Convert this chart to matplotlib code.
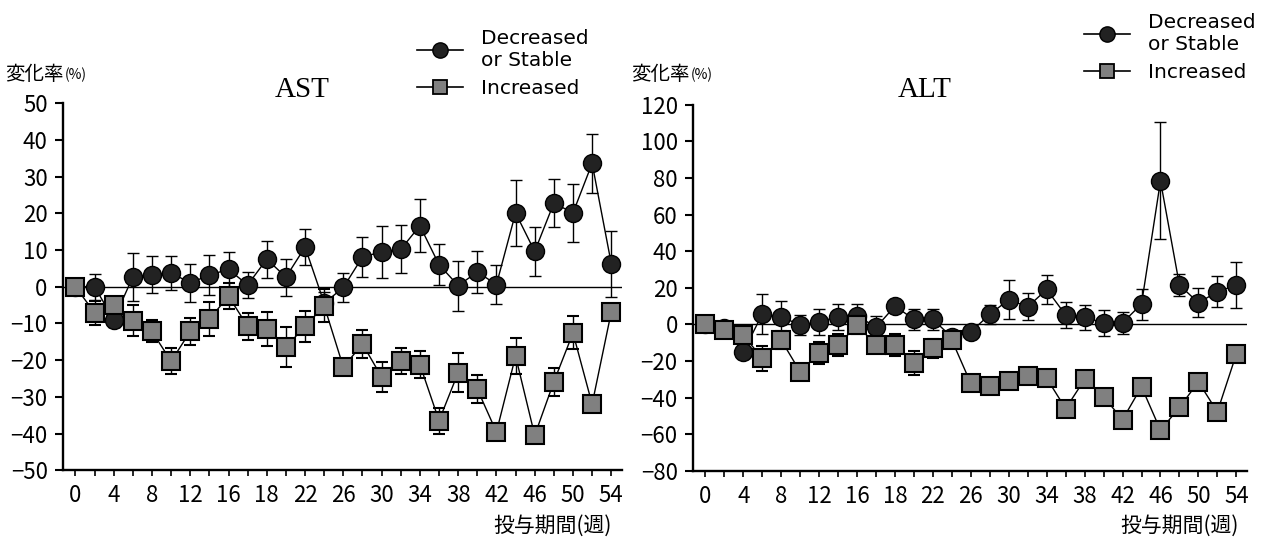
"""
    AST / ALT change rate by treatment week, two groups
"""

import matplotlib.pyplot as plt
import numpy as np
from matplotlib.lines import Line2D

plt.rcParams['font.family'] = ['Noto Sans CJK JP', 'DejaVu Sans']

# x axis is categorical (29 visits), label every other one
week_labels = ['0', '4', '8', '12', '16', '18', '22', '26', '30', '34', '38',
               '42', '46', '50', '54']

# AST, Decreased or Stable (circles)
ast_dec = [0, 0, -9, 2.7, 3.3, 3.8, 1.0, 3.2, 4.7, 0.5, 7.5, 2.6, 10.8, -4.5,
           -0.2, 8.1, 9.5, 10.2, 16.6, 6.0, 0.3, 4.0, 0.6, 20.1, 9.6, 22.8,
           20.1, 33.6, 6.3]
ast_dec_sd = [0, 3.5, 2, 6.5, 5, 4.6, 5.2, 5.5, 4.8, 3.5, 5, 5, 5, 3, 4, 5.5,
              7, 6.6, 7.2, 5.6, 6.8, 5.6, 5.3, 9, 6.6, 6.5, 7.8, 8, 9]
# AST, Increased (squares)
ast_inc = [0, -7.1, -5.1, -9.3, -12.2, -20.3, -12.2, -8.8, -2.6, -10.8, -11.5,
           -16.4, -10.8, -5.2, -21.9, -15.6, -24.6, -20.3, -21.2, -36.5, -23.4,
           -27.9, -39.6, -18.9, -40.5, -25.9, -12.6, -32.0, -6.9]
ast_inc_sd = [0, 3.3, 2, 4.2, 3, 3.5, 3.8, 4.5, 3.5, 3.7, 4.7, 5.4, 4.2, 4.5,
              1.5, 3.7, 4.2, 3.5, 3.7, 3.5, 5.3, 3.8, 1, 4.8, 1, 3.8, 4.5, 0.5,
              0.5]

# ALT, Decreased or Stable
alt_dec = [0, -2, -15, 5.6, 4.2, -0.4, 1.4, 4.2, 4.8, -1.6, 10.0, 2.7, 2.7, -7,
           -4.1, 5.5, 13.5, 9.6, 19.1, 5.1, 3.8, 0.9, 0.9, 11.1, 78.4, 21.5,
           11.8, 17.8, 21.5]
alt_dec_sd = [0, 0, 1, 11, 8.5, 5.5, 7, 7, 6.5, 6, 3, 5.7, 5.7, 1, 2, 5.3, 10.5,
              7.4, 8, 7, 7, 7, 6, 8.5, 32, 6, 8, 8.5, 12.5]
# ALT, Increased
alt_inc = [0, -3.1, -5.8, -18.6, -8.6, -25.9, -15.5, -11.3, -0.4, -11.3, -11.3,
           -21.3, -13.1, -8.6, -32.3, -33.8, -30.8, -28.3, -29.5, -46.0, -30.1,
           -39.6, -52.0, -34.1, -57.8, -45.4, -31.4, -47.8, -16.2]
alt_inc_sd = [0, 0, 0, 7, 5, 1, 6, 6, 5, 2, 6, 6.5, 5, 4, 1, 1, 1, 1, 1, 1, 1,
              1, 1, 2, 1, 1, 1, 1, 1]

circle_fc = '#222222'
square_fc = '#808080'


def draw_panel(fig, rect, dec, dec_sd, inc, inc_sd, ylim, ystep, title, title_x):
    ax = fig.add_axes(rect)
    x = np.arange(len(dec))

    ax.axhline(0, color='black', lw=1, zorder=1)
    ax.errorbar(x, dec, yerr=dec_sd, color='black', lw=1, elinewidth=1,
                capsize=4, capthick=1.3, marker='o', ms=13, mfc=circle_fc,
                mec='black', mew=1, zorder=2)
    ax.errorbar(x, inc, yerr=inc_sd, color='black', lw=1, elinewidth=1,
                capsize=4, capthick=1.3, marker='s', ms=13, mfc=square_fc,
                mec='black', mew=1.5, zorder=3)

    ax.set_xlim(-0.65, 28.55)
    ax.set_ylim(ylim)
    ax.set_yticks(np.arange(ylim[0], ylim[1] + 1, ystep))

    ax.set_xticks(x)
    labels = []
    for i in range(len(x)):
        labels.append(week_labels[i // 2] if i % 2 == 0 else '')
    ax.set_xticklabels(labels)

    for side in ['top', 'right']:
        ax.spines[side].set_visible(False)
    for side in ['left', 'bottom']:
        ax.spines[side].set_linewidth(1.7)
    ax.tick_params(axis='y', direction='out', length=6, width=1.5,
                   labelsize=16, pad=5)
    ax.tick_params(axis='x', direction='out', length=4, width=1.2,
                   labelsize=16, pad=6)

    fig.text(title_x, 0.835, title, family='Liberation Serif', fontsize=21,
             ha='center', va='center')
    return ax


def add_legend(fig, anchor):
    handles = [
        Line2D([], [], color='black', lw=1.2, marker='o', ms=11,
               mfc=circle_fc, mec='black'),
        Line2D([], [], color='black', lw=1.2, marker='s', ms=10,
               mfc=square_fc, mec='black', mew=1.3),
    ]
    fig.legend(handles, ['Decreased\nor Stable', 'Increased'], loc='upper left',
               bbox_to_anchor=anchor, bbox_transform=fig.transFigure,
               frameon=False, handlelength=2.3, handletextpad=0.9,
               labelspacing=0.45,
               prop={'family': 'DejaVu Sans', 'size': 14.5})


fig = plt.figure(figsize=(12.7, 5.43), dpi=100)

draw_panel(fig, [0.0496, 0.134, 0.44, 0.676], ast_dec, ast_dec_sd, ast_inc,
           ast_inc_sd, (-50, 50), 10, 'AST', 0.238)
draw_panel(fig, [0.5457, 0.133, 0.436, 0.674], alt_dec, alt_dec_sd, alt_inc,
           alt_inc_sd, (-80, 120), 20, 'ALT', 0.728)

# y axis captions and x axis captions
for x0 in [0.004, 0.497]:
    fig.text(x0, 0.862, '変化率', fontsize=14, va='center')
    fig.text(x0 + 0.047, 0.862, '(%)', fontsize=10, va='center')
fig.text(0.482, 0.032, '投与期間(週)', fontsize=15, ha='right', va='center')
fig.text(0.975, 0.032, '投与期間(週)', fontsize=15, ha='right', va='center')

add_legend(fig, (0.314, 0.98))
add_legend(fig, (0.839, 1.01))

plt.savefig('out.png')
